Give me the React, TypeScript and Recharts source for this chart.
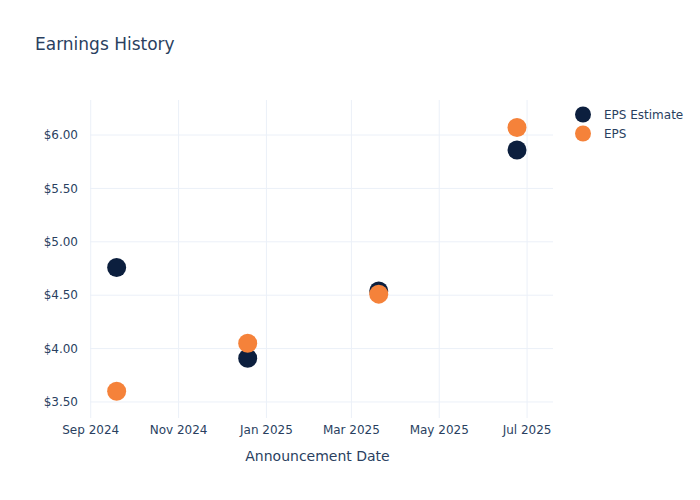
import { CartesianGrid, Scatter, ScatterChart, XAxis, YAxis } from "recharts";

const announceDates = ["2024-09-19", "2024-12-19", "2025-03-20", "2025-06-24"];
const epsEstimate = [4.76, 3.91, 4.54, 5.86];
const epsActual = [3.6, 4.05, 4.51, 6.07];

const monthTicks = ["2024-09-01", "2024-11-01", "2025-01-01", "2025-03-01", "2025-05-01", "2025-07-01"];
const monthLabels = ["Sep 2024", "Nov 2024", "Jan 2025", "Mar 2025", "May 2025", "Jul 2025"];
const priceTicks = [3.5, 4, 4.5, 5, 5.5, 6];

const NAVY = "#0c1f3e";
const ORANGE = "#f5823a";
const TEXT = "#2a3f5f";
const FONT = "'DejaVu Sans', sans-serif";

const DAY = 86400000;
const ts = (d: string) => Date.parse(d);

const estimateData = announceDates.map((d, i) => ({ date: ts(d), eps: epsEstimate[i] }));
const actualData = announceDates.map((d, i) => ({ date: ts(d), eps: epsActual[i] }));
const tickTs = monthTicks.map(ts);

const xDomain = [ts("2024-09-01") - DAY / 2, ts("2025-07-19")];

const dot = (color: string) => (props: any) =>
  <circle cx={props.cx} cy={props.cy} r={9.5} fill={color} />;

function LegendBox() {
  const items = [
    { name: "EPS Estimate", color: NAVY },
    { name: "EPS", color: ORANGE },
  ];
  return (
    <div style={{ position: "absolute", left: 570, top: 105, fontFamily: FONT, fontSize: 12, color: TEXT }}>
      {items.map((it) => (
        <div key={it.name} style={{ display: "flex", alignItems: "center", height: 19 }}>
          <svg width={24} height={19}>
            <circle cx={13} cy={9.5} r={8} fill={it.color} />
          </svg>
          <span style={{ marginLeft: 10 }}>{it.name}</span>
        </div>
      ))}
    </div>
  );
}

export default function App() {
  return (
    <div style={{ position: "fixed", left: 0, top: 0, width: 700, height: 500, background: "#fff", fontFamily: FONT }}>
      <div style={{ position: "absolute", left: 35, top: 34, fontSize: 17, color: TEXT }}>Earnings History</div>
      <ScatterChart width={700} height={500} margin={{ top: 100, right: 147, left: 30, bottom: 37 }}>
        <CartesianGrid stroke="#ebf0f8" syncWithTicks />
        <XAxis
          type="number"
          dataKey="date"
          domain={xDomain}
          ticks={tickTs}
          tickFormatter={(v: number) => monthLabels[tickTs.indexOf(v)] ?? ""}
          allowDataOverflow
          axisLine={false}
          tickLine={false}
          tickSize={0}
          tickMargin={7}
          height={45}
          tick={{ fontSize: 12, fill: TEXT, fontFamily: FONT }}
          label={{ value: "Announcement Date", position: "insideBottom", offset: 2, dx: -4, fontSize: 14, fill: TEXT, fontFamily: FONT }}
        />
        <YAxis
          type="number"
          dataKey="eps"
          domain={[3.35, 6.328]}
          ticks={priceTicks}
          allowDataOverflow
          tickFormatter={(v: number) => `$${v.toFixed(2)}`}
          axisLine={false}
          tickLine={false}
          tickSize={0}
          tickMargin={12}
          width={60}
          tick={{ fontSize: 12, fill: TEXT, fontFamily: FONT }}
        />
        <Scatter name="EPS Estimate" data={estimateData} fill={NAVY} shape={dot(NAVY)} isAnimationActive={false} />
        <Scatter name="EPS" data={actualData} fill={ORANGE} shape={dot(ORANGE)} isAnimationActive={false} />
      </ScatterChart>
      <LegendBox />
    </div>
  );
}
